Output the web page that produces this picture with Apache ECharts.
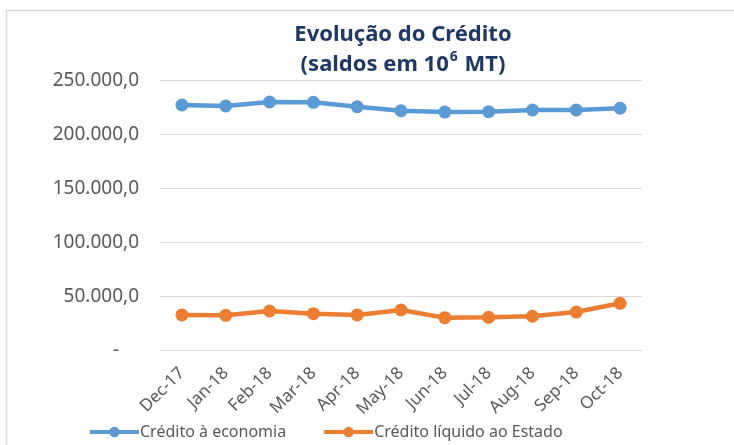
<!DOCTYPE html>
<html><head><meta charset="utf-8">
<script src="https://cdn.jsdelivr.net/npm/echarts@6/dist/echarts.min.js"></script>
<style>html,body{margin:0;padding:0;background:#fff}#c{width:734px;height:445px}</style>
</head><body><div id="c"></div>
<script>
const categories = ['Dec-17','Jan-18','Feb-18','Mar-18','Apr-18','May-18','Jun-18','Jul-18','Aug-18','Sep-18','Oct-18'];
const creditoEconomia = [227300, 226400, 230100, 229800, 225700, 222000, 220800, 221100, 222700, 222700, 224300];
const creditoEstado = [32900, 32600, 36600, 34100, 32900, 37500, 30400, 30700, 31700, 35600, 43700];
const seriesNames = ['Crédito à economia', 'Crédito líquido ao Estado'];
const titleLines = ['Evolução do Crédito', '(saldos em 10', '6', ' MT)'];

const font = 'Noto Sans';
const chart = echarts.init(document.getElementById('c'));
function fmt(v){
  if (v === 0) return '-    ';
  const s = Math.round(v).toString().replace(/\B(?=(\d{3})+(?!\d))/g, '.');
  return s + ',0';
}
chart.setOption({
  animation: false,
  backgroundColor: '#fff',
  graphic: [{
    type: 'rect', shape: {x: 6.5, y: 10.5, width: 800, height: 500},
    style: {fill: 'none', stroke: '#d9d9d9', lineWidth: 1.5}, silent: true
  }],
  title: {
    text: titleLines[0] + '\n' + titleLines[1] + '{sup|' + titleLines[2] + '}' + titleLines[3],
    left: 398, top: 15, textAlign: 'center',
    textStyle: {
      fontFamily: font, fontSize: 22, fontWeight: 'bold', color: '#1f3864', lineHeight: 30,
      rich: {sup: {fontFamily: font, fontSize: 14, fontWeight: 'bold', color: '#1f3864', verticalAlign: 'top', lineHeight: 24, padding: [0,1,4,1]}}
    }
  },
  legend: {
    bottom: 0, left: 83,
    itemWidth: 49, itemHeight: 13, itemGap: 36,
    lineStyle: {width: 4},
    textStyle: {fontFamily: font, fontSize: 16, color: '#595959', padding: [0,0,0,-4]},
    data: seriesNames
  },
  grid: {left: 160, right: 92, top: 80.5, bottom: 94.5, containLabel: false},
  xAxis: {
    type: 'category', data: categories, boundaryGap: true,
    axisLine: {show: false}, axisTick: {show: false},
    axisLabel: {rotate: 45, fontFamily: font, fontSize: 17, color: '#595959', margin: 20, interval: 0}
  },
  yAxis: {
    type: 'value', min: 0, max: 250000, interval: 50000,
    axisLine: {show: false}, axisTick: {show: false},
    splitLine: {lineStyle: {color: '#d9d9d9', width: 1}},
    axisLabel: {fontFamily: font, fontSize: 19, color: '#595959', margin: 21, formatter: fmt}
  },
  series: [
    {name: seriesNames[0], type: 'line', data: creditoEconomia, color: '#5b9bd5',
     symbol: 'circle', symbolSize: 13, lineStyle: {width: 4.5}, itemStyle: {color: '#5b9bd5'}},
    {name: seriesNames[1], type: 'line', data: creditoEstado, color: '#ed7d31',
     symbol: 'circle', symbolSize: 13, lineStyle: {width: 4.5}, itemStyle: {color: '#ed7d31'}}
  ]
});
</script></body></html>
